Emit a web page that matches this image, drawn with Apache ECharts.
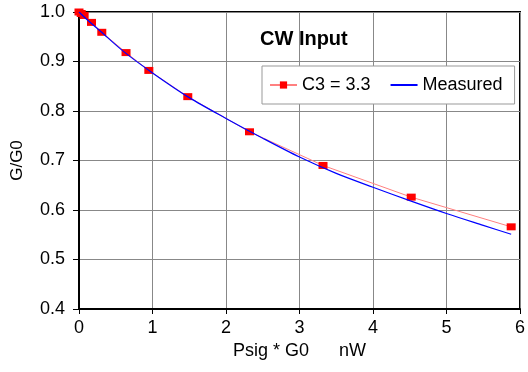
<!DOCTYPE html>
<html>
<head>
<meta charset="utf-8">
<script src="https://cdn.jsdelivr.net/npm/echarts@6/dist/echarts.min.js"></script>
<style>
  html, body { margin: 0; padding: 0; background: #fff; }
  #chart { width: 528px; height: 372px; }
</style>
</head>
<body>
<div id="chart"></div>
<script>
// C3 = 3.3 model points (red squares)
var modelX = [0, 0.03, 0.07, 0.17, 0.31, 0.64, 0.95, 1.48, 2.32, 3.32, 4.52, 5.88];
var modelY = [1.0, 0.997, 0.993, 0.979, 0.959, 0.918, 0.882, 0.829, 0.758, 0.690, 0.626, 0.566];

// measured curve (blue)
var measX = [0, 0.1, 0.3, 0.6, 1.0, 1.5, 2.0, 2.5, 3.0, 3.5, 4.0, 4.5, 5.0, 5.5, 5.88];
var measY = [1.0, 0.986, 0.960, 0.921, 0.877, 0.827, 0.785, 0.745, 0.707, 0.674, 0.646, 0.619, 0.593, 0.569, 0.551];

var xTicks = [0, 1, 2, 3, 4, 5, 6];
var yTicks = [0.4, 0.5, 0.6, 0.7, 0.8, 0.9, 1.0];

function pairs(xs, ys) {
  return xs.map(function (x, i) { return [x, ys[i]]; });
}

var chart = echarts.init(document.getElementById('chart'));
var font = 'Liberation Sans, Arial, sans-serif';

chart.setOption({
  animation: false,
  textStyle: { fontFamily: font },
  title: {
    text: 'CW Input',
    left: 255,
    top: 24,
    textStyle: { fontSize: 20, fontWeight: 'bold', color: '#000', fontFamily: font }
  },
  legend: {
    left: 262,
    top: 66,
    padding: [10, 12, 10, 7],
    itemGap: 19,
    itemWidth: 27,
    itemHeight: 9,
    backgroundColor: '#fff',
    borderColor: '#999',
    borderWidth: 1,
    textStyle: { fontSize: 18, color: '#000', fontFamily: font },
    data: ['C3 = 3.3', 'Measured']
  },
  grid: {
    left: 79,
    right: 8,
    top: 12,
    bottom: 63,
    show: true,
    borderColor: '#000',
    borderWidth: 2
  },
  xAxis: {
    type: 'value',
    min: xTicks[0],
    max: xTicks[xTicks.length - 1],
    interval: 1,
    name: 'Psig * G0      nW',
    nameLocation: 'middle',
    nameGap: 31,
    nameTextStyle: { fontSize: 18, color: '#000' },
    axisLine: { lineStyle: { color: '#000', width: 2 } },
    axisTick: { show: true, length: 5, lineStyle: { color: '#000' } },
    axisLabel: { fontSize: 18, color: '#000', margin: 10 },
    splitLine: { show: true, lineStyle: { color: '#888', width: 1 } }
  },
  yAxis: {
    type: 'value',
    min: yTicks[0],
    max: yTicks[yTicks.length - 1],
    interval: 0.1,
    name: 'G/G0',
    nameLocation: 'middle',
    nameGap: 53,
    nameRotate: 90,
    nameTextStyle: { fontSize: 17, color: '#000' },
    axisLine: { show: true, lineStyle: { color: '#000', width: 2 } },
    axisTick: { show: true, length: 6, lineStyle: { color: '#000' } },
    axisLabel: {
      fontSize: 18,
      color: '#000',
      margin: 14,
      formatter: function (v) { return v.toFixed(1); }
    },
    splitLine: { show: true, lineStyle: { color: '#888', width: 1 } }
  },
  series: [
    {
      name: 'C3 = 3.3',
      type: 'line',
      data: pairs(modelX, modelY),
      symbol: 'rect',
      symbolSize: [9, 7],
      itemStyle: { color: '#ff0000' },
      lineStyle: { color: '#ff8080', width: 1 },
      z: 3
    },
    {
      name: 'Measured',
      type: 'line',
      data: pairs(measX, measY),
      symbol: 'line',
      showSymbol: false,
      smooth: 0.3,
      itemStyle: { color: '#0000ff' },
      lineStyle: { color: '#0000ff', width: 1.2 },
      z: 4
    }
  ]
});
</script>
</body>
</html>
